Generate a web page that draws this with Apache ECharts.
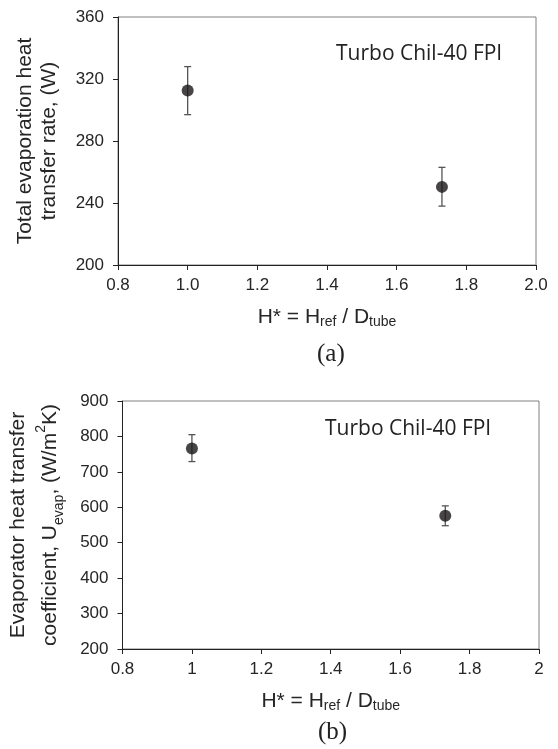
<!DOCTYPE html>
<html>
<head>
<meta charset="utf-8">
<script src="https://cdn.jsdelivr.net/npm/echarts@6/dist/echarts.min.js"></script>
<style>html,body{margin:0;padding:0;background:#fff;}#c{width:558px;height:749px;}</style>
</head>
<body>
<div id="c"></div>
<script>
// Data
const hStar = [1.0, 1.73];
const qTotal = [312.6, 250.4];
const qTotalLow = [297, 238];
const qTotalHigh = [328, 263];
const uEvap = [766, 576];
const uEvapLow = [729, 548];
const uEvapHigh = [805, 604];

const chart = echarts.init(document.getElementById('c'), null, {renderer: 'canvas'});

const axisFont = 'Arial, "Liberation Sans", sans-serif';
const txt = '#262626';

function errRender(params, api) {
  const x = api.value(0);
  const lo = api.coord([x, api.value(1)]);
  const hi = api.coord([x, api.value(2)]);
  const w = 3.5;
  const st = {stroke: '#555', lineWidth: 1.3};
  return {
    type: 'group',
    children: [
      {type: 'line', shape: {x1: hi[0], y1: hi[1], x2: lo[0], y2: lo[1]}, style: st},
      {type: 'line', shape: {x1: hi[0] - w, y1: hi[1], x2: hi[0] + w, y2: hi[1]}, style: st},
      {type: 'line', shape: {x1: lo[0] - w, y1: lo[1], x2: lo[0] + w, y2: lo[1]}, style: st}
    ]
  };
}

const richName = {
  a: {fontSize: 21, fontFamily: axisFont, color: txt, lineHeight: 24},
  sub: {fontSize: 14, fontFamily: axisFont, color: txt, lineHeight: 10, verticalAlign: 'bottom'},
  sup: {fontSize: 14, fontFamily: axisFont, color: txt, lineHeight: 12, verticalAlign: 'top'}
};
const richNameB = {
  a: {fontSize: 21, fontFamily: axisFont, color: txt, lineHeight: 32},
  sub: {fontSize: 14, fontFamily: axisFont, color: txt, lineHeight: 24, verticalAlign: 'bottom'},
  sup: {fontSize: 14, fontFamily: axisFont, color: txt, lineHeight: 25, verticalAlign: 'top'}
};
const xName = '{a|H* = H}{sub|ref}{a| / D}{sub|tube}';

function xAxisCfg(gridIndex, fmt) {
  return {
    type: 'value', gridIndex: gridIndex, min: 0.8, max: 2.0, interval: 0.2,
    axisLine: {show: true, lineStyle: {color: '#222', width: 1}},
    axisTick: {show: true, inside: false, length: 5, lineStyle: {color: '#222'}},
    splitLine: {show: false},
    axisLabel: {fontSize: 17, fontFamily: axisFont, color: txt, margin: 12, formatter: fmt},
    name: xName, nameLocation: 'middle', nameGap: 40,
    nameTextStyle: {rich: richName}
  };
}
function yAxisCfg(gridIndex, min, max, interval, name, gap, rich) {
  return {
    type: 'value', gridIndex: gridIndex, min: min, max: max, interval: interval,
    axisLine: {show: true, lineStyle: {color: '#222', width: 1}},
    axisTick: {show: true, inside: false, length: 5, lineStyle: {color: '#222'}},
    splitLine: {show: false},
    axisLabel: {fontSize: 17, fontFamily: axisFont, color: txt, margin: 14},
    name: name, nameLocation: 'middle', nameRotate: 90, nameGap: gap,
    nameTextStyle: {rich: rich, align: 'center'}
  };
}

const option = {
  backgroundColor: '#fff',
  animation: false,
  grid: [
    {left: 118, top: 17, width: 418, height: 248, show: true, borderColor: '#808080', borderWidth: 1, backgroundColor: '#fff'},
    {left: 120, top: 401, width: 419, height: 248, show: true, borderColor: '#808080', borderWidth: 1, backgroundColor: '#fff'}
  ],
  xAxis: [
    xAxisCfg(0, function (v) { return v.toFixed(1); }),
    xAxisCfg(1, function (v) { return String(Math.round(v * 10) / 10); })
  ],
  yAxis: [
    yAxisCfg(0, 200, 360, 40, '{a|Total evaporation heat}\n{a|transfer rate, (W)}', 57, richName),
    yAxisCfg(1, 200, 900, 100, '{a|Evaporator heat transfer}\n{a|coefficient, U}{sub|evap}{a|, (W/m}{sup|2}{a|K)}', 56, richNameB)
  ],
  graphic: [
    {type: 'text', left: 336, top: 44, style: {text: 'Turbo Chil-40 FPI', font: '21px "Open Sans", sans-serif', fill: '#222'}},
    {type: 'text', left: 325, top: 419, style: {text: 'Turbo Chil-40 FPI', font: '21px "Open Sans", sans-serif', fill: '#222'}},
    {type: 'text', left: 317, top: 342, style: {text: '(a)', font: '25px "Liberation Serif", "Times New Roman", serif', fill: '#222'}},
    {type: 'text', left: 318, top: 720, style: {text: '(b)', font: '25px "Liberation Serif", "Times New Roman", serif', fill: '#222'}}
  ],
  series: [
    {type: 'custom', xAxisIndex: 0, yAxisIndex: 0, renderItem: errRender,
     data: hStar.map((x, i) => [x, qTotalLow[i], qTotalHigh[i]]), z: 2},
    {type: 'scatter', xAxisIndex: 0, yAxisIndex: 0, symbol: 'circle', symbolSize: 12,
     itemStyle: {color: '#1a1718'}, data: hStar.map((x, i) => [x, qTotal[i]]), z: 3},
    {type: 'custom', xAxisIndex: 1, yAxisIndex: 1, renderItem: errRender,
     data: hStar.map((x, i) => [x, uEvapLow[i], uEvapHigh[i]]), z: 2},
    {type: 'scatter', xAxisIndex: 1, yAxisIndex: 1, symbol: 'circle', symbolSize: 12,
     itemStyle: {color: '#1a1718'}, data: hStar.map((x, i) => [x, uEvap[i]]), z: 3}
  ]
};
chart.setOption(option);
</script>
</body>
</html>
